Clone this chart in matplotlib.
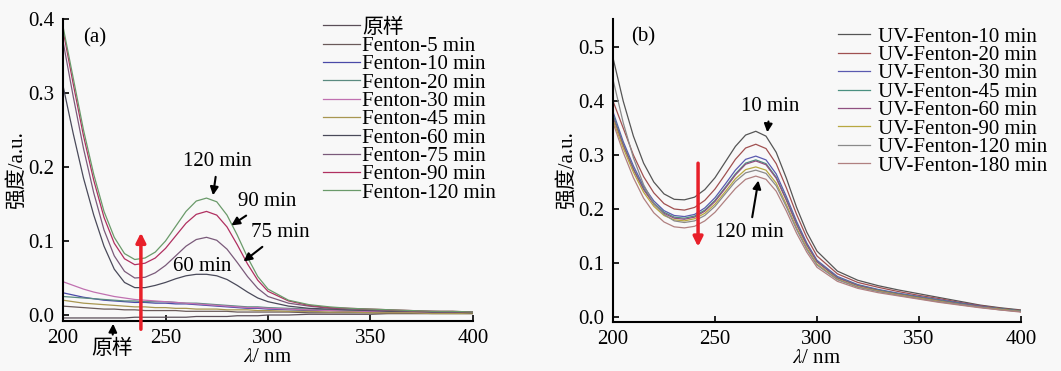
import matplotlib
matplotlib.use('Agg')
import matplotlib.pyplot as plt

plt.rcParams['font.family'] = ['Liberation Serif', 'Noto Sans CJK SC', 'DejaVu Sans']
plt.rcParams['mathtext.fontset'] = 'stix'

# wavelengths (nm)
wl = [200, 205, 210, 215, 220, 225, 230, 235, 240, 245, 250, 255, 260, 265, 270,
      275, 280, 285, 290, 295, 300, 310, 320, 330, 340, 350, 360, 370, 380, 390, 400]

# (a) Fenton
labels_a = ['原样', 'Fenton-5 min', 'Fenton-10 min', 'Fenton-20 min', 'Fenton-30 min',
            'Fenton-45 min', 'Fenton-60 min', 'Fenton-75 min', 'Fenton-90 min', 'Fenton-120 min']
colors_a = ['#5a4e58', '#6a5a5a', '#4a4aa8', '#5a8a80', '#c070b0',
            '#a89650', '#4a4a5a', '#7a5a7a', '#b03060', '#6a9a6a']
a_raw = [-0.004, -0.004, -0.004, -0.004, -0.004, -0.004, -0.004, -0.003, -0.003, -0.003, -0.003, -0.003, -0.003, -0.002, -0.002,
         -0.002, -0.002, -0.001, -0.001, -0.001, 0.000, 0.000, 0.001, 0.001, 0.001, 0.001, 0.002, 0.002, 0.002, 0.002, 0.002]
a_5 = [0.012, 0.011, 0.010, 0.009, 0.008, 0.008, 0.007, 0.007, 0.006, 0.006, 0.006, 0.006, 0.005, 0.005, 0.005,
       0.005, 0.005, 0.004, 0.004, 0.004, 0.004, 0.004, 0.003, 0.003, 0.003, 0.003, 0.002, 0.002, 0.002, 0.002, 0.002]
a_10 = [0.030, 0.027, 0.024, 0.022, 0.020, 0.019, 0.018, 0.017, 0.017, 0.016, 0.016, 0.015, 0.015, 0.014, 0.013,
        0.012, 0.011, 0.010, 0.009, 0.009, 0.008, 0.007, 0.006, 0.006, 0.005, 0.005, 0.004, 0.004, 0.003, 0.003, 0.003]
a_20 = [0.025, 0.024, 0.023, 0.022, 0.021, 0.020, 0.019, 0.019, 0.018, 0.018, 0.018, 0.017, 0.016, 0.016, 0.015,
        0.014, 0.013, 0.012, 0.011, 0.011, 0.010, 0.009, 0.008, 0.007, 0.006, 0.006, 0.005, 0.005, 0.004, 0.004, 0.004]
a_30 = [0.045, 0.040, 0.035, 0.031, 0.028, 0.025, 0.023, 0.021, 0.020, 0.019, 0.018, 0.017, 0.016, 0.015, 0.014,
        0.013, 0.012, 0.011, 0.010, 0.010, 0.009, 0.008, 0.007, 0.006, 0.005, 0.005, 0.004, 0.004, 0.003, 0.003, 0.003]
a_45 = [0.020, 0.018, 0.016, 0.015, 0.014, 0.013, 0.012, 0.011, 0.011, 0.010, 0.010, 0.009, 0.009, 0.008, 0.008,
        0.008, 0.007, 0.007, 0.007, 0.006, 0.006, 0.005, 0.005, 0.004, 0.004, 0.003, 0.003, 0.003, 0.002, 0.002, 0.002]
a_60 = [0.310, 0.245, 0.185, 0.135, 0.093, 0.062, 0.044, 0.037, 0.037, 0.040, 0.044, 0.049, 0.053, 0.055, 0.055,
        0.053, 0.048, 0.040, 0.031, 0.023, 0.018, 0.012, 0.009, 0.008, 0.007, 0.006, 0.005, 0.005, 0.004, 0.004, 0.003]
a_75 = [0.370, 0.295, 0.225, 0.165, 0.115, 0.080, 0.059, 0.050, 0.051, 0.057, 0.067, 0.080, 0.093, 0.102, 0.105,
        0.101, 0.089, 0.071, 0.052, 0.036, 0.025, 0.016, 0.012, 0.009, 0.008, 0.007, 0.006, 0.005, 0.005, 0.004, 0.004]
a_90 = [0.385, 0.312, 0.242, 0.182, 0.132, 0.097, 0.076, 0.068, 0.070, 0.077, 0.090, 0.107, 0.124, 0.136, 0.140,
        0.135, 0.119, 0.095, 0.069, 0.047, 0.032, 0.019, 0.013, 0.010, 0.009, 0.008, 0.007, 0.006, 0.005, 0.005, 0.004]
a_120 = [0.390, 0.320, 0.250, 0.190, 0.140, 0.105, 0.083, 0.075, 0.077, 0.085, 0.100, 0.120, 0.140, 0.154, 0.158,
         0.153, 0.135, 0.108, 0.078, 0.052, 0.035, 0.020, 0.014, 0.011, 0.009, 0.008, 0.007, 0.006, 0.005, 0.005, 0.004]
series_a = [a_raw, a_5, a_10, a_20, a_30, a_45, a_60, a_75, a_90, a_120]

# (b) UV-Fenton
labels_b = ['UV-Fenton-10 min', 'UV-Fenton-20 min', 'UV-Fenton-30 min', 'UV-Fenton-45 min',
            'UV-Fenton-60 min', 'UV-Fenton-90 min', 'UV-Fenton-120 min', 'UV-Fenton-180 min']
colors_b = ['#555555', '#a05050', '#5a5ab0', '#4a9080', '#905080', '#b8a840', '#8a8a8a', '#b08080']
b_10 = [0.480, 0.400, 0.335, 0.285, 0.250, 0.228, 0.218, 0.217, 0.222, 0.236, 0.258, 0.287, 0.316, 0.337, 0.344,
        0.335, 0.305, 0.257, 0.203, 0.157, 0.122, 0.085, 0.068, 0.058, 0.050, 0.043, 0.036, 0.029, 0.022, 0.017, 0.013]
b_20 = [0.400, 0.350, 0.300, 0.260, 0.230, 0.210, 0.200, 0.198, 0.203, 0.216, 0.237, 0.264, 0.292, 0.313, 0.320,
        0.312, 0.284, 0.239, 0.190, 0.147, 0.113, 0.080, 0.064, 0.055, 0.047, 0.040, 0.034, 0.027, 0.021, 0.016, 0.012]
b_30 = [0.380, 0.325, 0.280, 0.242, 0.215, 0.197, 0.188, 0.186, 0.190, 0.202, 0.221, 0.246, 0.272, 0.292, 0.298,
        0.291, 0.265, 0.223, 0.177, 0.137, 0.105, 0.075, 0.060, 0.051, 0.044, 0.038, 0.032, 0.026, 0.020, 0.015, 0.011]
b_45 = [0.375, 0.320, 0.275, 0.238, 0.211, 0.194, 0.185, 0.183, 0.187, 0.198, 0.216, 0.240, 0.265, 0.285, 0.291,
        0.284, 0.259, 0.218, 0.173, 0.134, 0.103, 0.073, 0.059, 0.050, 0.043, 0.037, 0.031, 0.025, 0.019, 0.015, 0.011]
b_60 = [0.370, 0.318, 0.273, 0.236, 0.209, 0.192, 0.183, 0.181, 0.185, 0.196, 0.214, 0.238, 0.263, 0.283, 0.289,
        0.282, 0.257, 0.216, 0.171, 0.133, 0.102, 0.072, 0.058, 0.049, 0.042, 0.036, 0.030, 0.024, 0.019, 0.014, 0.010]
b_90 = [0.365, 0.313, 0.268, 0.231, 0.205, 0.188, 0.180, 0.178, 0.182, 0.192, 0.209, 0.232, 0.256, 0.273, 0.278,
        0.272, 0.248, 0.208, 0.165, 0.128, 0.098, 0.070, 0.056, 0.048, 0.041, 0.035, 0.029, 0.023, 0.018, 0.014, 0.010]
b_120 = [0.440, 0.360, 0.295, 0.245, 0.210, 0.190, 0.178, 0.175, 0.178, 0.188, 0.205, 0.228, 0.251, 0.267, 0.272,
         0.266, 0.243, 0.204, 0.162, 0.125, 0.096, 0.069, 0.055, 0.047, 0.040, 0.034, 0.028, 0.023, 0.018, 0.013, 0.010]
b_180 = [0.360, 0.305, 0.258, 0.220, 0.193, 0.176, 0.167, 0.165, 0.168, 0.178, 0.194, 0.216, 0.238, 0.255, 0.261,
         0.255, 0.233, 0.196, 0.155, 0.120, 0.092, 0.066, 0.053, 0.045, 0.039, 0.033, 0.027, 0.022, 0.017, 0.013, 0.009]
series_b = [b_10, b_20, b_30, b_45, b_60, b_90, b_120, b_180]

W, H = 1061, 371
fig = plt.figure(figsize=(W / 100, H / 100), dpi=100, facecolor='#f8f8f8')
axa = fig.add_axes([63 / W, 1 - 321 / H, 410 / W, 302 / H])
axb = fig.add_axes([613 / W, 1 - 322 / H, 408 / W, 303 / H])

fs = 15
for ax in (axa, axb):
    ax.set_facecolor('#f8f8f8')
    ax.spines['top'].set_visible(False)
    ax.spines['right'].set_visible(False)
    ax.spines['left'].set_linewidth(1.5)
    ax.spines['bottom'].set_linewidth(1.5)
    ax.tick_params(direction='in', length=4, width=1.2, labelsize=fs, pad=6)
    ax.set_xlim(200, 400)
    ax.set_xticks([200, 250, 300, 350, 400])
    ax.set_xlabel('$\\lambda$/ nm', fontsize=fs, labelpad=0)
    ax.set_ylabel('强度/a.u.', fontsize=fs, labelpad=1)

# panel (a)
for y, lab, c in zip(series_a, labels_a, colors_a):
    axa.plot(wl, y, color=c, lw=0.9, label=lab)
axa.set_ylim(-0.0081, 0.4)
axa.set_yticks([0.0, 0.1, 0.2, 0.3, 0.4])
axa.set_yticklabels(['0.0', '0.1', '0.2', '0.3', '0.4'])
axa.text(215.5, 0.374, '(a)', fontsize=fs, ha='center', va='center')
axa.legend(loc='upper left', bbox_to_anchor=(323 / W, 1 - 18 / H), bbox_transform=fig.transFigure,
           frameon=False, fontsize=fs, handlelength=1.78, handletextpad=0.1,
           labelspacing=-0.06, borderaxespad=0, borderpad=0)

arr = dict(arrowstyle='-|>', color='black', lw=1.5, mutation_scale=12)
axa.annotate('120 min', xy=(273, 0.158), xytext=(275.5, 0.207), ha='center', va='center',
             fontsize=fs, arrowprops=arr)
axa.annotate('90 min', xy=(281, 0.119), xytext=(299.5, 0.153), ha='center', va='center',
             fontsize=fs, arrowprops=arr)
axa.annotate('75 min', xy=(287, 0.070), xytext=(306, 0.111), ha='center', va='center',
             fontsize=fs, arrowprops=arr)
axa.text(268, 0.065, '60 min', fontsize=fs, ha='center', va='center')
axa.annotate('原样', xy=(224.5, -0.008), xytext=(224, -0.047), ha='center', va='center',
             fontsize=fs, arrowprops=arr, annotation_clip=False)
axa.annotate('', xy=(238, 0.115), xytext=(238, -0.023), annotation_clip=False,
             arrowprops=dict(arrowstyle='-|>', color='#e8202a', lw=2.5, mutation_scale=14))

# panel (b)
for y, lab, c in zip(series_b, labels_b, colors_b):
    axb.plot(wl, y, color=c, lw=0.9, label=lab)
axb.set_ylim(-0.0093, 0.552)
axb.set_yticks([0.0, 0.1, 0.2, 0.3, 0.4, 0.5])
axb.set_yticklabels(['0.0', '0.1', '0.2', '0.3', '0.4', '0.5'])
axb.text(214.7, 0.519, '(b)', fontsize=fs, ha='center', va='center')
axb.legend(loc='upper left', bbox_to_anchor=(838 / W, 1 - 27 / H), bbox_transform=fig.transFigure,
           frameon=False, fontsize=fs, handlelength=1.54, handletextpad=0.38,
           labelspacing=-0.055, borderaxespad=0, borderpad=0)
axb.annotate('10 min', xy=(275.5, 0.337), xytext=(277, 0.39), ha='center', va='center',
             fontsize=fs, arrowprops=arr)
axb.annotate('120 min', xy=(271.5, 0.258), xytext=(267, 0.157), ha='center', va='center',
             fontsize=fs, arrowprops=arr)
axb.annotate('', xy=(241.7, 0.125), xytext=(241.7, 0.29),
             arrowprops=dict(arrowstyle='-|>', color='#e8202a', lw=2.5, mutation_scale=14))

fig.savefig('out.png', dpi=100, facecolor=fig.get_facecolor())
